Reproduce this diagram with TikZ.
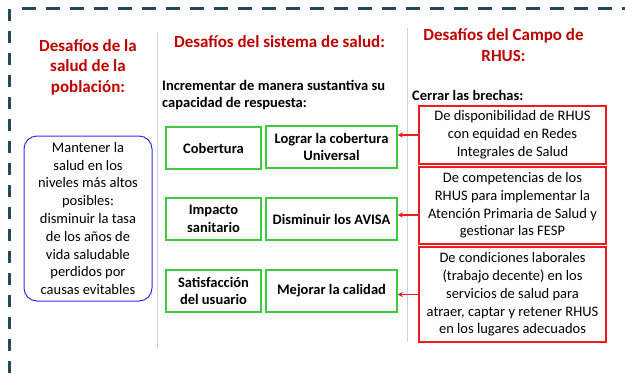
\documentclass[tikz,border=0pt]{standalone}
\usepackage{fontspec}
\setmainfont{Carlito}
\usetikzlibrary{arrows.meta}
\definecolor{dashcol}{HTML}{22495E}
\definecolor{titlered}{HTML}{C00000}
\definecolor{sepcol}{HTML}{C9D5E6}
\definecolor{boxgreen}{HTML}{3FCB3F}
\definecolor{boxred}{HTML}{EE1C1C}
\definecolor{boxblue}{HTML}{2E2EF0}
\tikzset{
  titletext/.style={text=titlered, font=\fontsize{17}{20.5}\selectfont\bfseries, align=center, inner sep=0pt},
  subtext/.style={font=\fontsize{14.5}{17}\selectfont\bfseries, align=left, inner sep=0pt, anchor=west},
  greenbox/.style={draw=boxgreen, line width=1.5pt, font=\fontsize{14.5}{17.8}\selectfont\bfseries, align=center, inner sep=0pt, minimum height=42pt},
  redbox/.style={draw=boxred, line width=1.5pt, font=\fontsize{14.5}{17.8}\selectfont, align=center, inner sep=0pt, minimum width=187pt},
  bluebox/.style={draw=boxblue, line width=1pt, rounded corners=13pt, font=\fontsize{14.5}{17.8}\selectfont, align=center, inner sep=0pt, minimum width=128pt, minimum height=165pt},
  sepline/.style={draw=sepcol, line width=1pt},
  arr/.style={draw=boxred, line width=1.5pt, -{Stealth[length=5pt,width=5pt]}}
}
\begin{document}
\begin{tikzpicture}[x=1pt,y=-1pt]
\useasboundingbox (0,0) rectangle (625,373);
% dashed frame
\coordinate (tl) at (22,8);
\coordinate (tr) at (630,8);
\coordinate (lt) at (9,9);
\coordinate (lb) at (9,380);
\draw[dashcol, line width=3pt, dash pattern=on 14pt off 10pt] (tl) -- (tr);
\draw[dashcol, line width=3pt, dash pattern=on 12pt off 10pt] (lt) -- (lb);
% separators
\coordinate (s1a) at (157,32);
\coordinate (s1b) at (157,348);
\coordinate (s2a) at (407,28);
\coordinate (s2b) at (407,342);
\draw[sepline] (s1a) -- (s1b);
\draw[sepline] (s2a) -- (s2b);
% titles
\node[titletext] (t1) at (88,67) {Desafíos de la\\salud de la\\población:};
\node[titletext] (t2) at (279.5,42) {Desafíos del sistema de salud:};
\node[titletext] (t3) at (503.5,45) {Desafíos del Campo de\\RHUS:};
\node[subtext] (st2) at (162,95.5) {Incrementar de manera sustantiva su\\capacidad de respuesta:};
\node[subtext] (st3) at (412,95) {Cerrar las brechas:};
% blue box
\node[bluebox] (b) at (88,218.5) {Mantener la\\salud en los\\niveles más altos\\posibles:\\disminuir la tasa\\de los años de\\vida saludable\\perdidos por\\causas evitables};
% green boxes
\node[greenbox, minimum width=95pt] (g1a) at (213.5,148) {Cobertura};
\node[greenbox, minimum width=131pt] (g1b) at (331.5,147) {Lograr la cobertura\\Universal};
\node[greenbox, minimum width=95pt] (g2a) at (213.5,219) {Impacto\\sanitario};
\node[greenbox, minimum width=131pt] (g2b) at (331.5,219) {Disminuir los AVISA};
\node[greenbox, minimum width=95pt] (g3a) at (213.5,291) {Satisfacción\\del usuario};
\node[greenbox, minimum width=131pt] (g3b) at (331.5,291) {Mejorar la calidad};
% red boxes
\node[redbox, minimum height=58pt] (r1) at (512.5,135) {De disponibilidad de RHUS\\con equidad en Redes\\Integrales de Salud};
\node[redbox, minimum height=77pt] (r2) at (512.5,205.5) {De competencias de los\\RHUS para implementar la\\Atención Primaria de Salud y\\gestionar las FESP};
\node[redbox, minimum height=95pt] (r3) at (512.5,294.5) {De condiciones laborales\\(trabajo decente) en los\\servicios de salud para\\atraer, captar y retener RHUS\\en los lugares adecuados};
% arrows
\draw[arr] (r1.west) -- (r1.west -| g1b.east);
\draw[arr] ([yshift=-9.5pt]r2.west) -- ([yshift=-9.5pt]r2.west -| g2b.east);
\draw[arr] (r3.west) -- (r3.west -| g3b.east);
\end{tikzpicture}
\end{document}
